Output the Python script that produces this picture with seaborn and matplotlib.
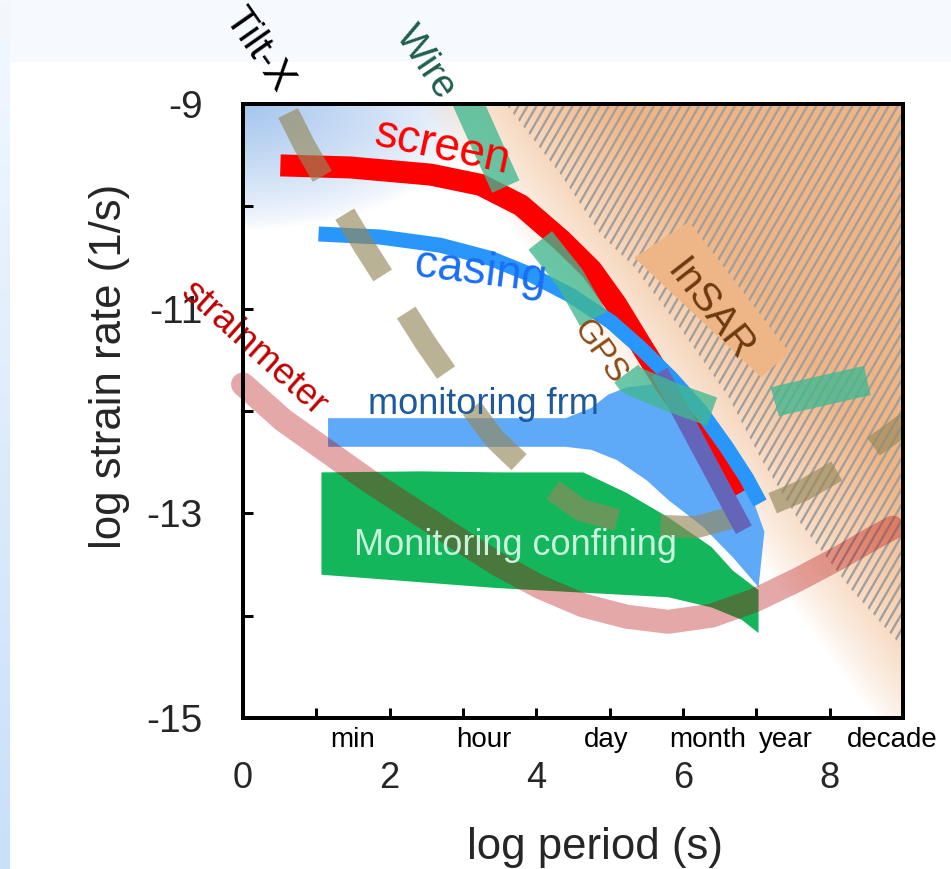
import numpy as np
import matplotlib
matplotlib.use("Agg")
import matplotlib.pyplot as plt
import seaborn as sns
from matplotlib.patches import Polygon, Rectangle
from matplotlib.collections import LineCollection
from matplotlib.colors import LinearSegmentedColormap, to_rgb

sns.set_theme(style="white")
plt.rcParams["font.family"] = ["Liberation Sans", "DejaVu Sans"]

# ---------------- data: log10 period (s) vs log10 strain rate (1/s) ----------------
screen_x = [0.51, 1.46, 2.56, 3.24, 3.79, 4.34, 4.75, 5.09, 5.43, 5.77, 6.11, 6.46, 6.73]
screen_y = [-9.60, -9.62, -9.69, -9.79, -9.99, -10.33, -10.62, -10.96, -11.36, -11.75, -12.09, -12.48, -12.82]

casing_x = [1.03, 1.87, 2.69, 3.38, 3.93, 4.47, 5.02, 5.43, 5.84, 6.25, 6.59, 6.87, 7.05]
casing_y = [-10.27, -10.30, -10.38, -10.51, -10.67, -10.87, -11.13, -11.39, -11.68, -12.01, -12.35, -12.66, -12.90]

frm_tail_x = [5.68, 6.83]
frm_tail_y = [-11.62, -13.16]

strain_x = [0.0, 0.55, 1.71, 2.89, 3.48, 4.05, 4.64, 5.23, 5.80, 6.39, 6.98, 7.56, 8.14, 8.60, 8.86]
strain_y = [-11.74, -12.09, -12.68, -13.23, -13.50, -13.72, -13.90, -14.01, -14.06, -14.00, -13.85, -13.65, -13.43, -13.24, -13.14]

tilt_x = [0.616, 0.834, 1.231, 1.641, 2.066, 2.490, 2.955, 3.434, 3.995, 4.610, 5.363, 6.183, 6.936, 7.647, 8.235, 8.782, 9.056]
tilt_y = [-9.088, -9.401, -9.890, -10.378, -10.857, -11.336, -11.815, -12.275, -12.656, -12.969, -13.115, -13.135, -12.988, -12.773, -12.529, -12.255, -12.109]

wire_x = [3.051, 3.338, 3.625, 3.995, 4.460, 4.747, 4.993, 5.294, 5.841, 6.416, 6.867, 7.346, 7.934, 8.536]
wire_y = [-8.961, -9.420, -9.870, -10.281, -10.701, -11.063, -11.405, -11.698, -11.864, -12.011, -11.991, -11.893, -11.796, -11.698]

frm_x = [1.16, 3.11, 4.40, 4.75, 4.98, 5.23, 5.57, 5.84, 6.10, 6.53, 6.87, 7.11, 7.03,
         6.68, 6.27, 5.80, 5.51, 5.10, 4.75, 4.40, 1.16]
frm_y = [-12.07, -12.07, -12.07, -11.97, -11.84, -11.77, -11.74, -11.76, -11.84, -12.28, -12.70, -13.18, -13.72,
         -13.43, -13.13, -12.87, -12.68, -12.48, -12.38, -12.35, -12.35]

conf_x = [1.07, 2.42, 3.52, 4.64, 5.23, 5.80, 6.39, 6.68, 7.03, 7.03, 6.80, 6.39, 5.80, 3.46, 1.07]
conf_y = [-12.60, -12.59, -12.60, -12.60, -12.80, -13.04, -13.33, -13.56, -13.75, -14.17, -14.04, -13.92, -13.82, -13.73, -13.60]

insar_x = [5.335, 6.080, 7.450, 7.065]
insar_y = [-10.50, -10.15, -11.43, -11.67]

hatch_x = [3.584, 4.337, 4.884, 5.335, 5.978, 6.621, 7.073, 7.620, 8.304, 9.029, 9.2, 9.2]
hatch_y = [-9.000, -9.694, -10.281, -10.593, -11.209, -11.864, -12.480, -13.115, -13.751, -14.337, -14.337, -8.9]

time_names = ["min", "hour", "day", "month", "year", "decade"]
time_pos = [1.49, 3.28, 4.95, 6.33, 7.41, 8.85]

xticks = list(range(0, 10))
xtick_labels = ["0", "", "2", "", "4", "", "6", "", "8", ""]
yticks = list(range(-15, -8))
ytick_labels = ["-15", "", "-13", "", "-11", "", "-9"]

XMIN, XMAX, YMIN, YMAX = 0, 9, -15, -9
PX = 0.72  # points per pixel at 100 dpi

fig = plt.figure(figsize=(9.51, 8.69), dpi=100)
fig.patch.set_facecolor("white")

# slide-style backdrop: pale top band and blue left strip
fig.add_artist(Rectangle((0, 1 - 62 / 869), 1, 62 / 869, transform=fig.transFigure,
                         facecolor="#f6f9fe", edgecolor="none", zorder=-10))
strip = fig.add_axes([0, 0, 10 / 951, 1], zorder=-9)
strip.imshow(np.linspace(0, 1, 200)[:, None], origin="lower", aspect="auto",
             cmap=LinearSegmentedColormap.from_list("strip", ["#c8e0fa", "#f3f8fe"]),
             extent=(0, 1, 0, 1))
strip.axis("off")

ax = fig.add_axes([243 / 951, 1 - 718 / 869, 660 / 951, 614 / 869])
ax.set_facecolor("white")

# ---- background shading (orange toward long periods / high rates, blue at top-left corner)
gx = np.linspace(XMIN, XMAX, 500)
gy = np.linspace(YMIN, YMAX, 450)
GX, GY = np.meshgrid(gx, gy)
d = 58.7 * GX - 210.4 + 61.0 * (GY + 9)
t_or = np.clip((d + 70) / 160, 0, 1) ** 0.8
xp = GX * 73.1
yp = -(GY + 9) * 102.3
r = np.sqrt((xp / 235) ** 2 + (yp / 125) ** 2)
t_bl = np.clip(1 - r, 0, 1) ** 0.75
img = np.ones(GX.shape + (3,))
blue = np.array(to_rgb("#a6c6ee"))
orange = np.array(to_rgb("#efb585"))
img = img * (1 - t_bl[..., None]) + blue * t_bl[..., None]
img = img * (1 - t_or[..., None]) + orange * t_or[..., None]
ax.imshow(img, origin="lower", extent=(XMIN, XMAX, YMIN, YMAX), aspect="auto",
          interpolation="bilinear", zorder=0)

# ---- InSAR hatch region
hatch_patch = Polygon(np.column_stack([hatch_x, hatch_y]), closed=True,
                      facecolor="none", edgecolor="none")
ax.add_patch(hatch_patch)
slope = 1.238
step = 9 / 73.1
segs = [[(x0, YMIN), (x0 + (YMAX - YMIN) / slope, YMAX)] for x0 in np.arange(-6, 9.3, step)]
lc = LineCollection(segs, colors="#a29e9b", linewidths=2.3 * PX, zorder=1)
ax.add_collection(lc)
lc.set_clip_path(hatch_patch)

ax.add_patch(Polygon(np.column_stack([insar_x, insar_y]), closed=True,
                     facecolor="#eeb687", edgecolor="none", zorder=1.5))

# ---- monitoring areas
ax.fill(conf_x, conf_y, color="#14b65c", lw=0, zorder=2)
ax.fill(frm_x, frm_y, color="#5faaf8", lw=0, zorder=2.1)


def band(x, y, color, lw_px, z, alpha=1.0, cap="butt", dash=None, clip=True):
    sns.lineplot(x=x, y=y, ax=ax, color=color, linewidth=lw_px * PX, alpha=alpha,
                 estimator=None, sort=False, zorder=z, solid_capstyle=cap,
                 solid_joinstyle="round", legend=False)
    line = ax.lines[-1]
    line.set_clip_on(clip)
    if dash is not None:
        line.set_dashes([dash[0] / lw_px, dash[1] / lw_px])
        line.set_dash_capstyle("butt")
    return line


band(strain_x, strain_y, "#b40000", 24, 3, alpha=0.34, cap="round", clip=False)
band(screen_x, screen_y, "#ff0000", 22, 3.3)
band(casing_x, casing_y, "#2896fa", 15, 3.4)
band(tilt_x, tilt_y, "#95895b", 22, 3.6, alpha=0.65, dash=(72, 44))
band(frm_tail_x, frm_tail_y, "#6464b9", 18, 3.7)
band(wire_x, wire_y, "#40b890", 30, 5, alpha=0.78, dash=(95, 64))

# ---- labels on the diagram
lab = dict(ha="center", va="center", zorder=6, clip_on=False)
ax.text(2.72, -9.43, "screen", color="#ff0000", fontsize=33, rotation=-12, **lab)
ax.text(3.24, -10.64, "casing", color="#1a6ef5", fontsize=33, rotation=-7, **lab)
ax.text(3.28, -11.94, "monitoring frm", color="#1d5a9c", fontsize=26, **lab)
ax.text(3.72, -13.31, "Monitoring confining", color="#c8f2dc", fontsize=26, **lab)
ax.text(0.15, -11.39, "strainmeter", color="#c00000", fontsize=26.5, rotation=-42, **lab)
ax.text(4.86, -11.42, "GPS", color="#8e4a12", fontsize=24, rotation=-55, **lab)
ax.text(6.37, -11.01, "InSAR", color="#6e3a10", fontsize=29, rotation=-52, **lab)
ax.text(0.21, -8.47, "Tilt-X", color="black", fontsize=29, rotation=-55, **lab)
ax.text(2.49, -8.60, "Wire", color="#1f5e4c", fontsize=28, rotation=-56, **lab)

# ---- axes
ax.set_xlim(XMIN, XMAX)
ax.set_ylim(YMIN, YMAX)
ax.set_xlabel("")
ax.set_ylabel("")
ax.set_xticks(xticks)
ax.set_xticklabels(xtick_labels)
ax.set_yticks(yticks)
ax.set_yticklabels(ytick_labels)
ax.tick_params(axis="both", direction="in", length=10 * PX, width=3 * PX, color="black",
               bottom=True, left=True, top=False, right=False)
ax.tick_params(axis="x", labelsize=26, pad=31)
ax.tick_params(axis="y", labelsize=28, pad=29)
for s in ax.spines.values():
    s.set_linewidth(4 * PX)
    s.set_color("black")
    s.set_zorder(7)
ax.grid(False)

for name, pos in zip(time_names, time_pos):
    ax.text(pos, -0.047, name, transform=ax.get_xaxis_transform(), ha="center",
            va="baseline", fontsize=20, color="black", clip_on=False)

fig.text(110 / 951, 1 - 366 / 869, "log strain rate (1/s)", rotation=90,
         ha="center", va="center", fontsize=31.5)
fig.text(595 / 951, 1 - 847 / 869, "log period (s)", ha="center", va="center", fontsize=31.5)

fig.savefig("out.png", dpi=100)
